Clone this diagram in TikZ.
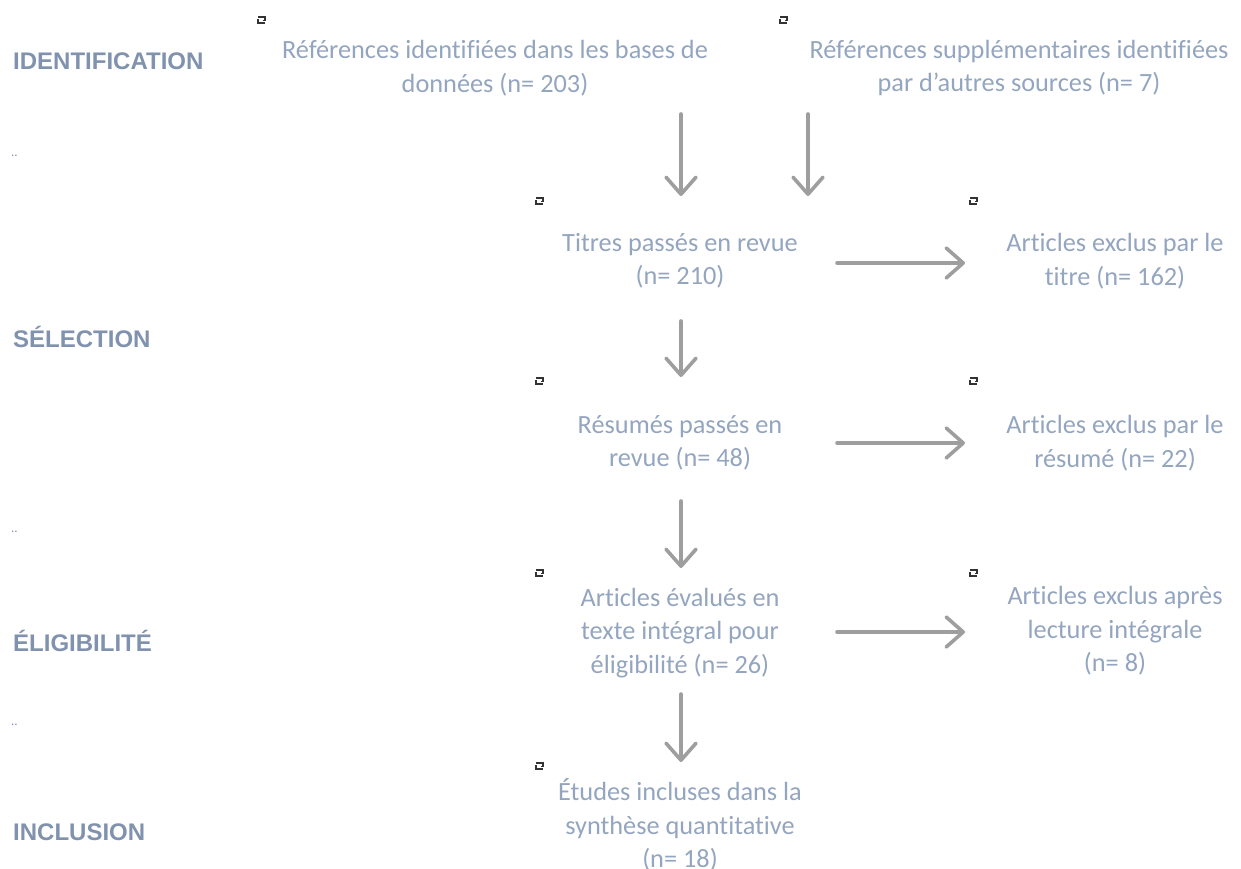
\documentclass[tikz,border=0pt]{standalone}
\usepackage{fontspec}
\setmainfont{Carlito}[Ligatures=NoCommon]
\newfontfamily\hdrfont{Liberation Sans}
\usetikzlibrary{arrows.meta}
\definecolor{txtc}{HTML}{93A5BF}
\definecolor{hdrc}{HTML}{8092AD}
\definecolor{arrc}{HTML}{9E9E9E}
\definecolor{mkc}{HTML}{333333}
\tikzset{
  box/.style={inner sep=0pt, align=center, text=txtc, font=\fontsize{26.3}{33.5}\selectfont},
  hdr/.style={inner sep=0pt, anchor=west, text=hdrc, font=\hdrfont\bfseries\fontsize{24}{26}\selectfont},
  flow/.style={draw=arrc, line width=3.6pt, line cap=round, -{Straight Barb[length=17pt,width=30pt,round]}},
  dots/.style={inner sep=0pt, anchor=west, text=hdrc, font=\fontsize{13}{13}\selectfont},
  mk/.style={draw=mkc, line width=1.5pt}
}
\begin{document}
\begin{tikzpicture}[x=1pt,y=-1pt]
\useasboundingbox (0,0) rectangle (1241,868);
% stage headers
\node[hdr] (h1) at (13,61) {IDENTIFICATION};
\node[hdr] (h2) at (13,337) {SÉLECTION};
\node[hdr] (h3) at (13,641) {ÉLIGIBILITÉ};
\node[hdr] (h4) at (13,832) {INCLUSION};
\node[dots] (d1) at (11,156) {..};
\node[dots] (d2) at (11,532) {..};
\node[dots] (d3) at (11,725) {..};
% text boxes
\node[box] (A) at (495,68) {Références identifiées dans les bases de\\données (n= 203)};
\node[box] (B) at (1019,68) {Références supplémentaires identifiées\\par d’autres sources (n= 7)};
\node[box] (C) at (680,261) {Titres passés en revue\\(n= 210)};
\node[box] (D) at (1115,261) {Articles exclus par le\\titre (n= 162)};
\node[box] (E) at (680,443) {Résumés passés en\\revue (n= 48)};
\node[box] (F) at (1115,443) {Articles exclus par le\\résumé (n= 22)};
\node[box] (G) at (680,633) {Articles évalués en\\texte intégral pour\\éligibilité (n= 26)};
\node[box] (H) at (1115,631) {Articles exclus après\\lecture intégrale\\(n= 8)};
\node[box] (I) at (680,825) {Études incluses dans la\\synthèse quantitative\\(n= 18)};
% anchor marks
\foreach \n/\x/\y in {m1/262/20, m2/784/20, m3/540/201, m4/974/201, m5/540/381, m6/974/381, m7/540/573, m8/974/573, m9/540/766}{
  \coordinate (\n) at (\x,\y);
  \draw[mk] ([xshift=-4pt,yshift=3pt]\n) -- ([xshift=3pt,yshift=3pt]\n) -- ([xshift=3pt,yshift=-0.5pt]\n) -- ([xshift=0.5pt,yshift=-0.5pt]\n);
  \draw[mk] ([xshift=-4pt,yshift=1pt]\n) -- ([xshift=-4pt,yshift=-3pt]\n) -- ([xshift=3pt,yshift=-3pt]\n);
}
% arrow end points
\coordinate (a1s) at (681,114); \coordinate (a1e) at (681,196);
\coordinate (a2s) at (808,114); \coordinate (a2e) at (808,196);
\coordinate (a3s) at (837,263); \coordinate (a3e) at (965,263);
\coordinate (a4s) at (681,321); \coordinate (a4e) at (681,377);
\coordinate (a5s) at (837,443); \coordinate (a5e) at (965,443);
\coordinate (a6s) at (681,501); \coordinate (a6e) at (681,568);
\coordinate (a7s) at (837,632); \coordinate (a7e) at (965,632);
\coordinate (a8s) at (681,694); \coordinate (a8e) at (681,762);
\foreach \i in {1,...,8}{\draw[flow] (a\i s) -- (a\i e);}
\end{tikzpicture}
\end{document}
